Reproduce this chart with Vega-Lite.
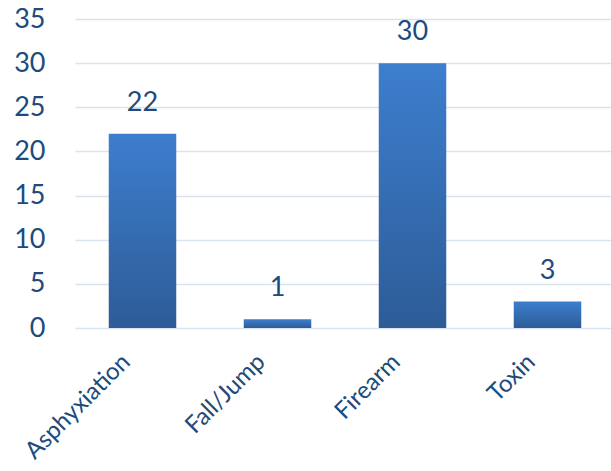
{
  "$schema": "https://vega.github.io/schema/vega-lite/v6.json",
  "autosize": "none",
  "width": 540,
  "height": 309,
  "padding": {"left": 75, "top": 19, "right": 0, "bottom": 143},
  "background": "white",
  "data": {"values": [
    {"cause": "Asphyxiation", "count": 22},
    {"cause": "Fall/Jump", "count": 1},
    {"cause": "Firearm", "count": 30},
    {"cause": "Toxin", "count": 3}
  ]},
  "config": {
    "view": {"stroke": null},
    "font": "Lato"
  },
  "encoding": {
    "x": {
      "field": "cause", "type": "nominal", "sort": null,
      "scale": {"paddingInner": 0.5, "paddingOuter": 0.25},
      "axis": {
        "title": null, "labelAngle": -45, "labelFontSize": 24, "labelColor": "#204a7c",
        "labelFont": "Lato", "ticks": false, "domain": false, "labelPadding": 30,
        "labelOffset": -16,
        "labelAlign": "right", "labelBaseline": "middle", "grid": false
      }
    },
    "y": {
      "field": "count", "type": "quantitative",
      "scale": {"domain": [0, 35]},
      "axis": {
        "title": null, "values": [0, 5, 10, 15, 20, 25, 30, 35],
        "labelFontSize": 27, "labelColor": "#204a7c", "labelFont": "Lato",
        "ticks": false, "domain": false, "labelPadding": 30,
        "gridColor": "#d9e3f0", "gridWidth": 1.5
      }
    }
  },
  "layer": [
    {
      "mark": {
        "type": "bar",
        "color": {
          "gradient": "linear", "x1": 0, "y1": 0, "x2": 0, "y2": 1,
          "stops": [
            {"offset": 0, "color": "#3d7ece"},
            {"offset": 1, "color": "#2d5c97"}
          ]
        }
      }
    },
    {
      "mark": {"type": "text", "baseline": "middle", "dy": -31, "fontSize": 27, "color": "#204a7c", "font": "Lato"},
      "encoding": {"text": {"field": "count", "type": "quantitative"}}
    }
  ]
}
